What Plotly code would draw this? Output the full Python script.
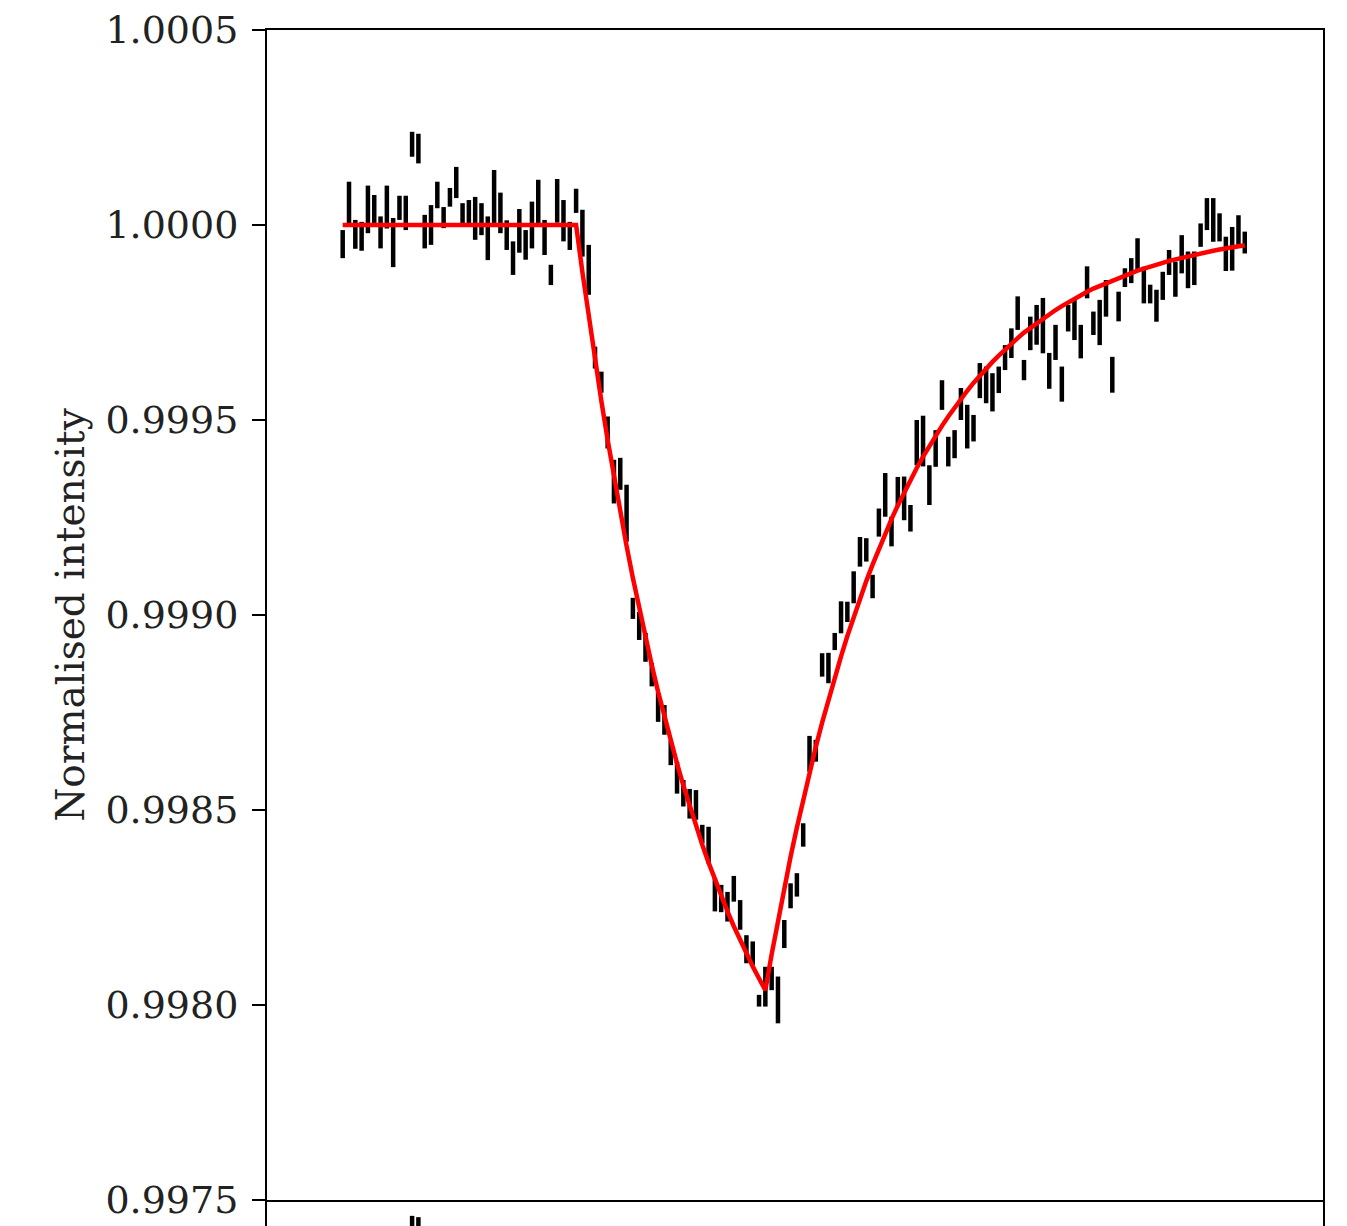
import plotly.graph_objects as go
import numpy as np

# Normalised flux measurements (one per exposure, regular cadence -> plotted by index)
flux = [
    0.999951, 1.000058, 0.999976, 0.999971, 1.000040, 1.000036, 0.999981, 1.000046, 0.999955, 1.000044,
    1.000031, 1.000207, 1.000196, 0.999983, 1.000000, 1.000077, 1.000019, 1.000071, 1.000109, 1.000027,
    1.000030, 1.000017, 1.000015, 0.999966, 1.000073, 1.000031, 0.999974, 0.999915, 0.999985, 0.999949,
    1.000000, 1.000056, 0.999968, 0.999872, 1.000062, 1.000011, 0.999972, 1.000062, 0.999979, 0.999885,
    0.999660, 0.999597, 0.999468, 0.999342, 0.999362, 0.999261, 0.999017, 0.998972, 0.998917, 0.998847,
    0.998763, 0.998731, 0.998647, 0.998583, 0.998543, 0.998516, 0.998513, 0.998438, 0.998410, 0.998283,
    0.998273, 0.998252, 0.998298, 0.998231, 0.998143, 0.998133, 0.998011, 0.998047, 0.998068, 0.998013,
    0.998182, 0.998280, 0.998308, 0.998436, 0.998644, 0.998652, 0.998872, 0.998864, 0.998932, 0.998994,
    0.999008, 0.999071, 0.999162, 0.999167, 0.999073, 0.999237, 0.999308, 0.999214, 0.999316, 0.999299,
    0.999248, 0.999442, 0.999446, 0.999333, 0.999427, 0.999564, 0.999419, 0.999438, 0.999541, 0.999483,
    0.999479, 0.999601, 0.999590, 0.999571, 0.999603, 0.999660, 0.999697, 0.999774, 0.999628, 0.999722,
    0.999744, 0.999742, 0.999626, 0.999699, 0.999592, 0.999761, 0.999758, 0.999701, 0.999853, 0.999748,
    0.999750, 0.999812, 0.999616, 0.999791, 0.999865, 0.999883, 0.999925, 0.999846, 0.999823, 0.999793,
    0.999844, 0.999904, 0.999861, 0.999925, 0.999885, 0.999889, 0.999974, 1.000028, 1.000013, 0.999994,
    0.999926, 0.999939, 0.999987, 0.999955,
]

flux_err = [
    0.000036, 0.000053, 0.000037, 0.000037, 0.000061, 0.000041, 0.000041, 0.000055, 0.000063, 0.000031,
    0.000044, 0.000032, 0.000038, 0.000043, 0.000051, 0.000034, 0.000027, 0.000024, 0.000040, 0.000029,
    0.000034, 0.000055, 0.000041, 0.000056, 0.000068, 0.000052, 0.000038, 0.000043, 0.000056, 0.000038,
    0.000060, 0.000060, 0.000045, 0.000026, 0.000056, 0.000053, 0.000036, 0.000031, 0.000060, 0.000064,
    0.000028, 0.000027, 0.000041, 0.000056, 0.000041, 0.000073, 0.000027, 0.000036, 0.000037, 0.000030,
    0.000037, 0.000038, 0.000032, 0.000041, 0.000034, 0.000038, 0.000038, 0.000024, 0.000047, 0.000043,
    0.000035, 0.000038, 0.000033, 0.000038, 0.000036, 0.000030, 0.000015, 0.000051, 0.000030, 0.000060,
    0.000036, 0.000032, 0.000030, 0.000030, 0.000046, 0.000028, 0.000030, 0.000039, 0.000022, 0.000041,
    0.000026, 0.000041, 0.000038, 0.000030, 0.000030, 0.000036, 0.000056, 0.000038, 0.000038, 0.000056,
    0.000034, 0.000058, 0.000065, 0.000051, 0.000047, 0.000038, 0.000038, 0.000036, 0.000041, 0.000056,
    0.000034, 0.000045, 0.000047, 0.000049, 0.000034, 0.000032, 0.000038, 0.000043, 0.000026, 0.000043,
    0.000051, 0.000071, 0.000046, 0.000045, 0.000045, 0.000034, 0.000053, 0.000043, 0.000041, 0.000030,
    0.000058, 0.000047, 0.000046, 0.000038, 0.000024, 0.000032, 0.000041, 0.000047, 0.000024, 0.000041,
    0.000036, 0.000032, 0.000045, 0.000049, 0.000047, 0.000043, 0.000030, 0.000041, 0.000056, 0.000036,
    0.000044, 0.000056, 0.000038, 0.000028,
]

# Fitted model evaluated at each exposure
model = [
    1.0, 1.0, 1.0, 1.0, 1.0, 1.0, 1.0, 1.0, 1.0, 1.0,
    1.0, 1.0, 1.0, 1.0, 1.0, 1.0, 1.0, 1.0, 1.0, 1.0,
    1.0, 1.0, 1.0, 1.0, 1.0, 1.0, 1.0, 1.0, 1.0, 1.0,
    1.0, 1.0, 1.0, 1.0, 1.0, 1.0, 1.0, 1.0, 0.999879, 0.999763,
    0.999653, 0.999549, 0.999449, 0.999354, 0.999263, 0.999177, 0.999095, 0.999016, 0.998942, 0.998871,
    0.998803, 0.998739, 0.998677, 0.998619, 0.998563, 0.998510, 0.998459, 0.998411, 0.998365, 0.998321,
    0.998280, 0.998240, 0.998202, 0.998166, 0.998132, 0.998099, 0.998068, 0.998038, 0.998130, 0.998217,
    0.998300, 0.998380, 0.998455, 0.998527, 0.998596, 0.998662, 0.998724, 0.998784, 0.998840, 0.998894,
    0.998946, 0.998995, 0.999042, 0.999087, 0.999129, 0.999170, 0.999209, 0.999246, 0.999281, 0.999314,
    0.999346, 0.999377, 0.999406, 0.999434, 0.999460, 0.999485, 0.999509, 0.999532, 0.999554, 0.999575,
    0.999595, 0.999614, 0.999632, 0.999649, 0.999665, 0.999681, 0.999696, 0.999710, 0.999724, 0.999736,
    0.999749, 0.999760, 0.999772, 0.999782, 0.999792, 0.999802, 0.999811, 0.999820, 0.999829, 0.999837,
    0.999844, 0.999851, 0.999858, 0.999865, 0.999871, 0.999877, 0.999883, 0.999888, 0.999894, 0.999899,
    0.999903, 0.999908, 0.999912, 0.999916, 0.999920, 0.999924, 0.999927, 0.999931, 0.999934, 0.999937,
    0.999940, 0.999943, 0.999946, 0.999948,
]

y_ticks = [0.9975, 0.9980, 0.9985, 0.9990, 0.9995, 1.0000, 1.0005]
y_title = "Normalised intensity"

residual = (np.array(flux) - np.array(model)).tolist()

FONT = "DejaVu Serif"
FS = 38

fig = go.Figure()

fig.add_trace(go.Scatter(
    y=flux, mode="markers",
    marker=dict(size=1, color="rgba(0,0,0,0)"),
    error_y=dict(type="data", array=flux_err, color="black", thickness=4.5, width=0),
    xaxis="x", yaxis="y", showlegend=False, hoverinfo="skip",
))
fig.add_trace(go.Scatter(
    y=model, mode="lines", line=dict(color="#ff0000", width=4.5),
    xaxis="x", yaxis="y", showlegend=False, hoverinfo="skip",
))
fig.add_trace(go.Scatter(
    y=residual, mode="markers",
    marker=dict(size=1, color="rgba(0,0,0,0)"),
    error_y=dict(type="data", array=flux_err, color="black", thickness=4.5, width=0),
    xaxis="x2", yaxis="y2", showlegend=False, hoverinfo="skip",
))

split = 26 / 1196
xr = [-12.0, 155.4]

fig.update_layout(
    autosize=False,
    width=1347, height=1226,
    margin=dict(l=267, r=24, t=30, b=0, pad=0, autoexpand=False),
    showlegend=False,
    paper_bgcolor="white", plot_bgcolor="white",
    font=dict(family=FONT, size=FS, color="black"),
    xaxis=dict(domain=[0, 1], anchor="y", range=xr, showline=True, linecolor="black",
               linewidth=2, mirror=True, ticks="", showticklabels=False, automargin=False,
               showgrid=False, zeroline=False),
    yaxis=dict(domain=[split, 1], anchor="x", range=[0.9975, 1.0005], tickvals=y_ticks,
               tickformat=".4f", ticks="outside", ticklen=13, tickwidth=2, tickcolor="black",
               showline=True, linecolor="black", linewidth=2, mirror=True, automargin=False,
               showgrid=False, zeroline=False, ticklabelstandoff=6,
               tickfont=dict(family=FONT, size=FS, color="#222"),
               title=dict(text=y_title, font=dict(family=FONT, size=39, color="#222"), standoff=9)),
    xaxis2=dict(domain=[0, 1], anchor="y2", range=xr, showline=False, ticks="", automargin=False,
                showticklabels=False, showgrid=False, zeroline=False),
    yaxis2=dict(domain=[0, split], anchor="x2", range=[0.0002, 0.0003], showline=True,
                linecolor="black", linewidth=2, mirror=True, ticks="", showticklabels=False,
                automargin=False, showgrid=False, zeroline=False),
)

fig.write_html("out.html", config={"responsive": False})
